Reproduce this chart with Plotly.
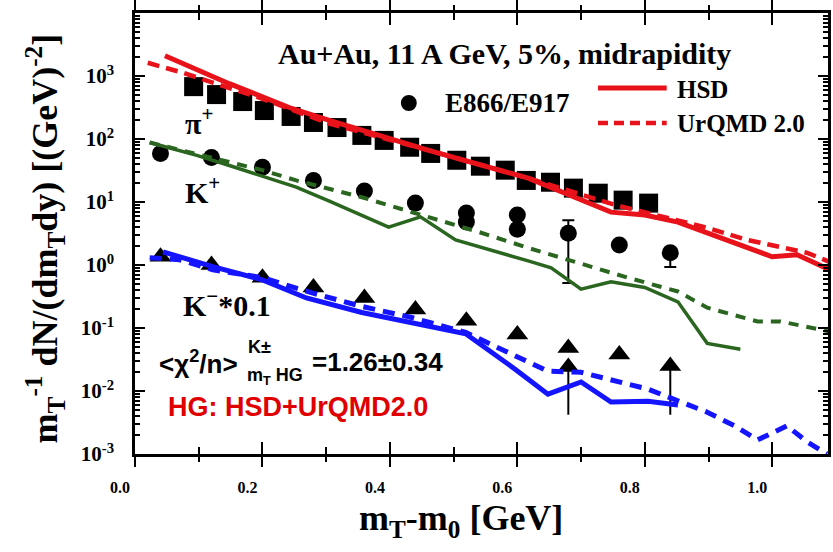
import plotly.graph_objects as go

# ---------------- data ----------------
pi_x = [0.092, 0.128, 0.169, 0.203, 0.245, 0.280, 0.317, 0.356, 0.391, 0.431,
        0.464, 0.505, 0.542, 0.581, 0.614, 0.652, 0.688, 0.727, 0.766, 0.806]
pi_y = [678, 507, 393, 283, 228, 183, 152, 114, 95, 74,
        59, 46, 37, 32, 22, 20.6, 16.6, 13.8, 10.7, 9.6]

kp_x = [0.04, 0.12, 0.20, 0.28, 0.36, 0.44, 0.52, 0.52, 0.60, 0.60, 0.68, 0.76, 0.84]
kp_y = [59, 51, 35.5, 22, 14.9, 9.6, 6.7, 4.8, 6.2, 3.7, 3.2, 2.08, 1.56]
kp_err_plus = [0, 0, 0, 0, 0, 0, 0, 0, 0, 0, 1.94, 0, 0]
kp_err_minus = [0, 0, 0, 0, 0, 0, 0, 0, 0, 0, 2.68, 0, 0.63]

km_x = [0.04, 0.12, 0.20, 0.28, 0.36, 0.44, 0.52, 0.60, 0.68, 0.68, 0.76, 0.84]
km_y = [1.35, 1.0, 0.63, 0.44, 0.30, 0.196, 0.13, 0.079, 0.048, 0.024, 0.038, 0.025]
km_err_minus = [0, 0, 0, 0, 0, 0, 0, 0, 0, 0.0198, 0, 0.0208]

hsd_pi_x = [0.047, 0.148, 0.242, 0.305, 0.461, 0.617, 0.747, 0.800, 0.852, 0.903, 1.000, 1.039, 1.090]
hsd_pi_y = [2093, 755, 316, 197, 66, 23.9, 6.9, 6.2, 4.8, 3.1, 1.35, 1.45, 0.84]

urqmd_pi_x = [0.020, 0.075, 0.122, 0.195, 0.258, 0.305, 0.461, 0.617, 0.753, 0.898, 0.961, 1.013, 1.055, 1.090]
urqmd_pi_y = [1622, 1127, 783, 454, 263, 176, 66, 23.9, 9.0, 3.9, 2.5, 1.94, 1.56, 1.12]

hsd_kp_x = [0.023, 0.097, 0.148, 0.200, 0.253, 0.305, 0.398, 0.448, 0.503, 0.617, 0.653,
            0.700, 0.747, 0.800, 0.852, 0.898, 0.950]
hsd_kp_y = [88, 55, 38, 25.6, 17.2, 10.3, 4.0, 5.8, 2.5, 1.16, 0.90,
            0.414, 0.54, 0.44, 0.26, 0.057, 0.046]

urqmd_kp_x = [0.023, 0.097, 0.148, 0.200, 0.253, 0.305, 0.356, 0.450, 0.539, 0.617, 0.695,
              0.773, 0.852, 0.898, 0.977, 1.013, 1.090]
urqmd_kp_y = [88, 57, 43, 32, 22, 16, 11.9, 6.2, 3.35, 1.87, 1.08,
              0.63, 0.38, 0.21, 0.127, 0.127, 0.088]

hsd_km_x = [0.044, 0.122, 0.200, 0.269, 0.356, 0.434, 0.492, 0.519, 0.597, 0.648,
            0.700, 0.747, 0.805, 0.852]
hsd_km_y = [1.62, 0.94, 0.58, 0.30, 0.176, 0.122, 0.092, 0.081, 0.022, 0.0089,
            0.0139, 0.0067, 0.0069, 0.0060]

urqmd_km_x = [0.023, 0.070, 0.122, 0.200, 0.278, 0.356, 0.434, 0.519, 0.648, 0.700,
              0.805, 0.898, 0.941, 0.977, 1.023, 1.055, 1.086]
urqmd_km_y = [1.30, 1.21, 0.84, 0.63, 0.36, 0.22, 0.147, 0.085, 0.0206, 0.0198,
              0.0107, 0.0046, 0.0028, 0.00167, 0.0028, 0.00155, 0.001]

x_tickvals = [0.0, 0.2, 0.4, 0.6, 0.8, 1.0]
x_ticktext = ["0.0", "0.2", "0.4", "0.6", "0.8", "1.0"]
y_tickvals = [1e-3, 1e-2, 1e-1, 1e0, 1e1, 1e2, 1e3, 1e4]
y_ticktext = ["10<sup>-3</sup>", "10<sup>-2</sup>", "10<sup>-1</sup>", "10<sup>0</sup>",
              "10<sup>1</sup>", "10<sup>2</sup>", "10<sup>3</sup>", "10<sup>4</sup>"]

RED = "#e8121a"
GREEN = "#2b6620"
BLUE = "#1414ff"
SERIF = "Liberation Serif"
SANS = "Liberation Sans"

W, H = 833, 552
ML, MR, MT, MB = 135, 2, 13, 98
PW, PH = W - ML - MR, H - MT - MB


def pxx(x):
    return (x - ML) / PW


def pyy(y):
    return (H - MB - y) / PH


fig = go.Figure()

# data markers
fig.add_trace(go.Scatter(x=pi_x, y=pi_y, mode="markers",
                         marker=dict(symbol="square", size=19, color="black"), showlegend=False))
fig.add_trace(go.Scatter(x=kp_x, y=kp_y, mode="markers",
                         marker=dict(symbol="circle", size=17, color="black"),
                         error_y=dict(type="data", array=kp_err_plus, arrayminus=kp_err_minus,
                                      color="black", thickness=2, width=6),
                         showlegend=False))
fig.add_trace(go.Scatter(x=km_x, y=km_y, mode="markers",
                         marker=dict(symbol="triangle-up", size=19, color="black"),
                         error_y=dict(type="data", array=[0] * len(km_x), arrayminus=km_err_minus,
                                      color="black", thickness=2, width=0),
                         showlegend=False))

# model curves
fig.add_trace(go.Scatter(x=hsd_pi_x, y=hsd_pi_y, mode="lines",
                         line=dict(color=RED, width=5), showlegend=False))
fig.add_trace(go.Scatter(x=urqmd_pi_x, y=urqmd_pi_y, mode="lines",
                         line=dict(color=RED, width=4.5, dash="12px,7px"), showlegend=False))
fig.add_trace(go.Scatter(x=hsd_kp_x, y=hsd_kp_y, mode="lines",
                         line=dict(color=GREEN, width=3.5), showlegend=False))
fig.add_trace(go.Scatter(x=urqmd_kp_x, y=urqmd_kp_y, mode="lines",
                         line=dict(color=GREEN, width=4, dash="10px,8px"), showlegend=False))
fig.add_trace(go.Scatter(x=hsd_km_x, y=hsd_km_y, mode="lines",
                         line=dict(color=BLUE, width=5), showlegend=False))
fig.add_trace(go.Scatter(x=urqmd_km_x, y=urqmd_km_y, mode="lines",
                         line=dict(color=BLUE, width=5, dash="12px,8px"), showlegend=False))
# dummy trace for overlay axis (outside ticks)
fig.add_trace(go.Scatter(x=[None], y=[None], xaxis="x2", showlegend=False, hoverinfo="skip"))

XR = [0, (W - MR - ML) / 640.0]

fig.update_layout(
    width=W, height=H,
    margin=dict(l=ML, r=MR, t=MT, b=MB),
    paper_bgcolor="white", plot_bgcolor="white",
    xaxis=dict(range=XR, showgrid=False, zeroline=False,
               showline=True, linecolor="black", linewidth=2.5, mirror="ticks",
               ticks="inside", ticklen=12, tickwidth=2, tickcolor="black",
               tickvals=x_tickvals, ticktext=x_ticktext,
               tickfont=dict(family=SERIF, size=16, color="black", weight="bold"),
               ticklabelstandoff=17, ticklabelshift=-15,
               minor=dict(ticks="inside", ticklen=7, tickwidth=2, tickcolor="black",
                          dtick=0.1, tick0=0, showgrid=False)),
    xaxis2=dict(range=XR, overlaying="x", anchor="y", side="bottom",
                showgrid=False, zeroline=False, showline=False, mirror="ticks",
                ticks="outside", ticklen=12, tickwidth=2, tickcolor="black",
                tickvals=x_tickvals, showticklabels=False,
                minor=dict(ticks="outside", ticklen=7, tickwidth=2, tickcolor="black",
                           dtick=0.1, tick0=0, showgrid=False)),
    yaxis=dict(type="log", range=[-3, 4], showgrid=False, zeroline=False,
               showline=True, linecolor="black", linewidth=2.5, mirror="ticks",
               ticks="inside", ticklen=10, tickwidth=2, tickcolor="black",
               tickvals=y_tickvals, ticktext=y_ticktext,
               tickfont=dict(family=SERIF, size=21, color="black", weight="bold"),
               ticklabelstandoff=14,
               minor=dict(ticks="inside", ticklen=5, tickwidth=1.5, tickcolor="black",
                          dtick="D1", showgrid=False)),
)

ann = []


def add_text(text, x, y, size, family=SERIF, color="black", xanchor="left", bold=True, angle=0):
    ann.append(dict(text=text, x=pxx(x), y=pyy(y), xref="paper", yref="paper",
                    xanchor=xanchor, yanchor="middle", showarrow=False, textangle=angle,
                    font=dict(family=family, size=size, color=color,
                              weight="bold" if bold else "normal")))


add_text("Au+Au, 11 A GeV, 5%, midrapidity", 277, 53, 30)
add_text("HSD", 677, 89, 25)
add_text("UrQMD 2.0", 677, 124, 25)
add_text("E866/E917", 444, 103, 27)
add_text("π<sup>+</sup>", 183, 121, 30)
add_text("K<sup>+</sup>", 183, 190, 30)
add_text("K<sup>−</sup>*0.1", 181, 303, 30)
add_text("&lt;χ<sup>2</sup>/n&gt;", 157, 362, 26, family=SANS)
add_text("K±", 246, 347, 18, family=SANS)
add_text("m<sub>T</sub> HG", 245, 376, 18, family=SANS)
add_text("=1.26±0.34", 311, 362, 26, family=SANS)
add_text("HG: HSD+UrQMD2.0", 166, 407, 27, family=SANS, color="#e00000")
add_text("m<sub>T</sub><sup>-1</sup> dN/(dm<sub>T</sub>dy) [(GeV)<sup>-2</sup>]", 45, 238, 36,
         xanchor="center", angle=-90)
add_text("m<sub>T</sub>-m<sub>0</sub> [GeV]", 462, 520, 36, xanchor="center")

shapes = [
    dict(type="line", xref="paper", yref="paper", x0=pxx(600), x1=pxx(669), y0=pyy(88), y1=pyy(88),
         line=dict(color=RED, width=5)),
    dict(type="line", xref="paper", yref="paper", x0=pxx(600), x1=pxx(669), y0=pyy(123), y1=pyy(123),
         line=dict(color=RED, width=4.5, dash="10px,6px")),
    dict(type="circle", xref="paper", yref="paper", x0=pxx(402), x1=pxx(418), y0=pyy(111), y1=pyy(95),
         fillcolor="black", line=dict(color="black", width=0)),
]

fig.update_layout(annotations=ann, shapes=shapes)

fig.write_html("out.html")
